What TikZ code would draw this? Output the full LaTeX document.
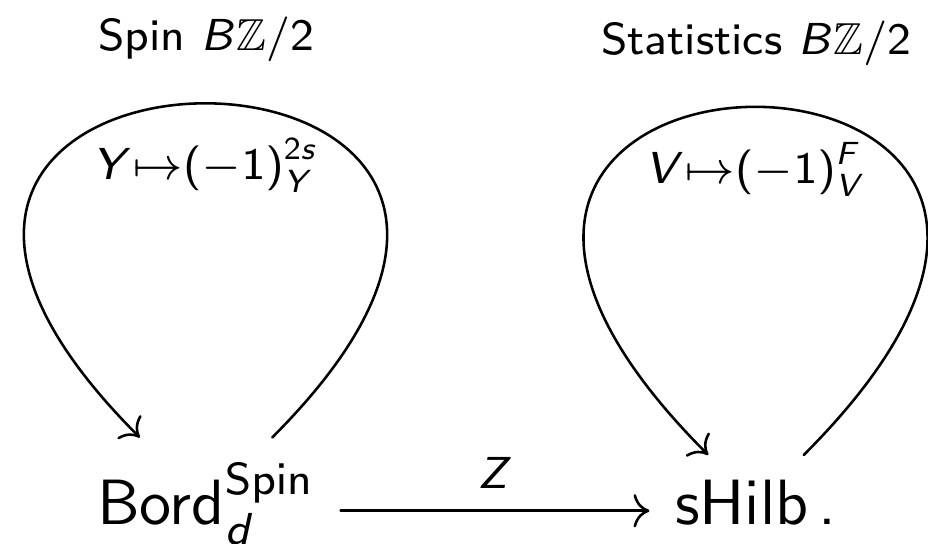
\documentclass[tikz,border=0pt]{standalone}
\usepackage{amsmath,amssymb}
\usetikzlibrary{arrows.meta}
\renewcommand{\familydefault}{\sfdefault}
% sans serif math letters and digits
\SetSymbolFont{operators}{normal}{OT1}{cmss}{m}{n}
\SetSymbolFont{letters}{normal}{OT1}{cmss}{m}{sl}
\DeclareMathSymbol{/}{\mathord}{operators}{"2F}
\DeclareMathSymbol{.}{\mathord}{operators}{"2E}

\begin{document}
\begin{tikzpicture}[x=0.15625pt,y=-0.15625pt,>={Computer Modern Rightarrow},line cap=round,line join=round,
  obj/.style={inner sep=0pt,outer sep=4pt,font=\normalsize},
  lbl/.style={font=\scriptsize}]
\useasboundingbox (0,0) rectangle (928,544);
% objects
\node[obj,anchor=base] (bord) at (206,525) {$\mathrm{Bord}^{\mathrm{Spin}}_{d}$};
\node[obj,anchor=base] (shilb) at (756,525) {$\mathrm{sHilb}\,.$};
% partition function
\draw[->] (bord.mid east) -- node[lbl,above] (zlbl) {$Z$} (shilb.mid west);
% spin loop
\draw[->] (bord) to[out=45,in=135,distance=98.4pt]
  node[lbl,midway,above=3pt] (spin) {Spin $B\mathbb{Z}/2$}
  node[lbl,midway,below=2pt] (ysign) {$Y{\mapsto}(-1)^{2s}_{Y}$} (bord);
% statistics loop
\draw[->] (shilb) to[out=45,in=135,distance=102.5pt]
  node[lbl,midway,above=3pt] (stat) {Statistics $B\mathbb{Z}/2$}
  node[lbl,midway,below=2pt] (vsign) {$V{\mapsto}(-1)^{F}_{V}$} (shilb);
\end{tikzpicture}
\end{document}
